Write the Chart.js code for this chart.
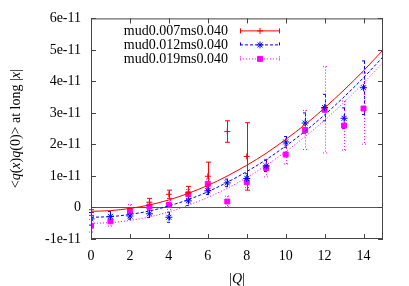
<!DOCTYPE html>
<html>
<head>
<meta charset="utf-8">
<script src="https://cdn.jsdelivr.net/npm/chart.js@4.4.0/dist/chart.umd.min.js"></script>
<style>
  html, body { margin: 0; padding: 0; background: #fff; }
</style>
</head>
<body>
<canvas id="chart" width="409" height="286"></canvas>
<script>
// all correlator values are in units of 1e-11

const qRed = [0, 3, 4, 5, 6, 7, 8];
const valRed = [-0.16, 0.17, 0.42, 0.47, 0.99, 2.41, 1.62];
const errRed = [0.09, 0.12, 0.13, 0.2, 0.45, 0.34, 1.07];

const qBlue = [0, 1, 2, 3, 4, 5, 6, 7, 8, 9, 10, 11, 12, 13, 14];
const valBlue = [-0.36, -0.28, -0.27, -0.2, -0.31, 0.21, 0.53, 0.78, 0.92, 1.32, 2.08, 2.68, 3.17, 2.83, 3.8];
const errBlue = [0.2, 0.15, 0.1, 0.12, 0.16, 0.15, 0.12, 0.12, 0.15, 0.18, 0.17, 0.32, 0.42, 0.33, 0.85];

const qMag = [0, 1, 2, 3, 4, 5, 6, 7, 8, 9, 10, 11, 12, 13, 14];
const valMag = [-0.58, -0.44, -0.11, 0.03, 0.08, 0.42, 0.75, 0.19, 0.8, 1.25, 1.68, 2.46, 3.1, 2.6, 3.14];
const errMag = [0.2, 0.15, 0.2, 0.12, 0.14, 0.15, 0.15, 0.17, 0.17, 0.28, 0.3, 0.62, 1.37, 0.78, 1.13];

// fit curves
const fitQ = [0, 1, 2, 3, 4, 5, 6, 7, 8, 9, 10, 11, 12, 13, 14, 15];
const fitRed = [-0.12, -0.1, -0.03, 0.08, 0.24, 0.45, 0.7, 1.0, 1.34, 1.72, 2.16, 2.63, 3.16, 3.73, 4.34, 5.0];
const fitBlue = [-0.31, -0.29, -0.22, -0.11, 0.05, 0.25, 0.5, 0.8, 1.14, 1.52, 1.95, 2.42, 2.94, 3.51, 4.12, 4.78];
const fitMag = [-0.5, -0.48, -0.41, -0.3, -0.14, 0.07, 0.32, 0.61, 0.95, 1.34, 1.77, 2.25, 2.77, 3.34, 3.95, 4.61];

const seriesNames = ['mud0.007ms0.040', 'mud0.012ms0.040', 'mud0.019ms0.040'];
const yTickLabels = ['-1e-11', '0', '1e-11', '2e-11', '3e-11', '4e-11', '5e-11', '6e-11'];

const FONT = '"Liberation Serif", "Times New Roman", serif';

const series = [
    { q: qRed, val: valRed, err: errRed, fit: fitRed, color: '#ff0000', dash: [], style: 'cross', radius: 3 },
    { q: qBlue, val: valBlue, err: errBlue, fit: fitBlue, color: '#0000ff', dash: [3, 2], style: 'star', radius: 3.5 },
    { q: qMag, val: valMag, err: errMag, fit: fitMag, color: '#ff00ff', dash: [1, 2], style: 'rect', radius: 3.5 }
];

const datasets = [];
series.forEach((s, k) => {
    datasets.push({
        label: seriesNames[k],
        data: s.q.map((q, i) => ({ x: q, y: s.val[i] })),
        showLine: false,
        pointStyle: s.style,
        pointRadius: s.radius,
        borderColor: s.color,
        backgroundColor: s.color,
        borderWidth: 1
    });
    datasets.push({
        label: seriesNames[k] + ' fit',
        data: fitQ.map((q, i) => ({ x: q, y: s.fit[i] })),
        showLine: true,
        pointRadius: 0,
        borderColor: s.color,
        borderWidth: 1,
        borderDash: s.dash,
        cubicInterpolationMode: 'monotone',
        fill: false
    });
});

function drawRich(ctx, parts, x, y) {
    let total = 0;
    parts.forEach(p => {
        ctx.font = (p.it ? 'italic ' : '') + '14px ' + FONT;
        p.w = ctx.measureText(p.t).width;
        total += p.w;
    });
    let cx = x - total / 2;
    ctx.textAlign = 'left';
    ctx.textBaseline = 'middle';
    parts.forEach(p => {
        ctx.font = (p.it ? 'italic ' : '') + '14px ' + FONT;
        ctx.fillText(p.t, cx, y);
        cx += p.w;
    });
}

const errorBars = {
    id: 'errorBars',
    beforeDatasetsDraw(chart) {
        const { ctx, scales: { x, y } } = chart;
        series.forEach(s => {
            ctx.save();
            ctx.strokeStyle = s.color;
            ctx.lineWidth = 1;
            ctx.setLineDash(s.dash);
            s.q.forEach((q, i) => {
                const px = Math.round(x.getPixelForValue(q)) + 0.5;
                const top = y.getPixelForValue(s.val[i] + s.err[i]);
                const bot = y.getPixelForValue(s.val[i] - s.err[i]);
                ctx.beginPath();
                ctx.moveTo(px, top); ctx.lineTo(px, bot);
                ctx.moveTo(px - 2.5, top); ctx.lineTo(px + 2.5, top);
                ctx.moveTo(px - 2.5, bot); ctx.lineTo(px + 2.5, bot);
                ctx.stroke();
            });
            ctx.restore();
        });
    }
};

const frame = {
    id: 'frame',
    afterDatasetsDraw(chart) {
        const { ctx, chartArea: a, scales: { x, y } } = chart;
        ctx.save();
        ctx.strokeStyle = '#444';
        ctx.lineWidth = 1;
        ctx.strokeRect(a.left + 0.5, a.top + 0.5, a.right - a.left - 1, a.bottom - a.top - 1);
        ctx.beginPath();
        x.ticks.forEach(t => {
            const px = Math.round(x.getPixelForValue(t.value)) + 0.5;
            ctx.moveTo(px, a.bottom); ctx.lineTo(px, a.bottom - 5);
            ctx.moveTo(px, a.top); ctx.lineTo(px, a.top + 5);
        });
        y.ticks.forEach(t => {
            const py = Math.round(y.getPixelForValue(t.value)) + 0.5;
            ctx.moveTo(a.left, py); ctx.lineTo(a.left + 5, py);
            ctx.moveTo(a.right, py); ctx.lineTo(a.right - 5, py);
        });
        ctx.stroke();

        // legend
        ctx.fillStyle = '#000';
        series.forEach((s, k) => {
            const ly = a.top + 12.5 + k * 14;
            ctx.font = '14px ' + FONT;
            ctx.textAlign = 'right';
            ctx.textBaseline = 'middle';
            ctx.fillText(seriesNames[k], a.left + 137, ly);
            const x0 = a.left + 149, x1 = a.left + 189;
            ctx.save();
            ctx.strokeStyle = s.color;
            ctx.setLineDash(s.dash);
            ctx.beginPath();
            ctx.moveTo(x0, ly); ctx.lineTo(x1, ly);
            ctx.moveTo(x0 + 0.5, ly - 2.5); ctx.lineTo(x0 + 0.5, ly + 2.5);
            ctx.moveTo(x1 - 0.5, ly - 2.5); ctx.lineTo(x1 - 0.5, ly + 2.5);
            ctx.stroke();
            ctx.setLineDash([]);
            ctx.fillStyle = s.color;
            Chart.helpers.drawPoint(ctx, { pointStyle: s.style, radius: s.radius, borderWidth: 1 }, (x0 + x1) / 2, ly);
            ctx.restore();
        });

        // axis titles
        ctx.fillStyle = '#000';
        drawRich(ctx, [{ t: '|' }, { t: 'Q', it: true }, { t: '|' }], (a.left + a.right) / 2, 279);
        ctx.save();
        ctx.translate(16, (a.top + a.bottom) / 2);
        ctx.rotate(-Math.PI / 2);
        drawRich(ctx, [
            { t: '<' }, { t: 'q', it: true }, { t: '(' }, { t: 'x', it: true }, { t: ')' },
            { t: 'q', it: true }, { t: '(0)> at long |' }, { t: 'x', it: true }, { t: '|' }
        ], 0, 0);
        ctx.restore();
        ctx.restore();
    }
};

new Chart(document.getElementById('chart'), {
    type: 'scatter',
    data: { datasets: datasets },
    options: {
        responsive: false,
        animation: false,
        layout: { padding: { top: 18, right: 26, left: 0, bottom: 0 } },
        plugins: {
            legend: { display: false },
            tooltip: { enabled: false }
        },
        scales: {
            x: {
                type: 'linear',
                min: 0,
                max: 15,
                ticks: {
                    stepSize: 2,
                    includeBounds: false,
                    padding: 9,
                    maxRotation: 0,
                    color: '#000',
                    font: { family: FONT, size: 14 }
                },
                grid: { display: false, drawTicks: false },
                border: { display: false },
                afterFit(s) { s.height = 47; }
            },
            y: {
                min: -1,
                max: 6,
                ticks: {
                    stepSize: 1,
                    padding: 10,
                    color: '#000',
                    font: { family: FONT, size: 14 },
                    callback: v => yTickLabels[Math.round(v) + 1]
                },
                grid: {
                    drawTicks: false,
                    color: c => (c.tick && c.tick.value === 0 ? '#555' : 'rgba(0,0,0,0)')
                },
                border: { display: false },
                afterFit(s) { s.width = 91; }
            }
        }
    },
    plugins: [errorBars, frame]
});
</script>
</body>
</html>
